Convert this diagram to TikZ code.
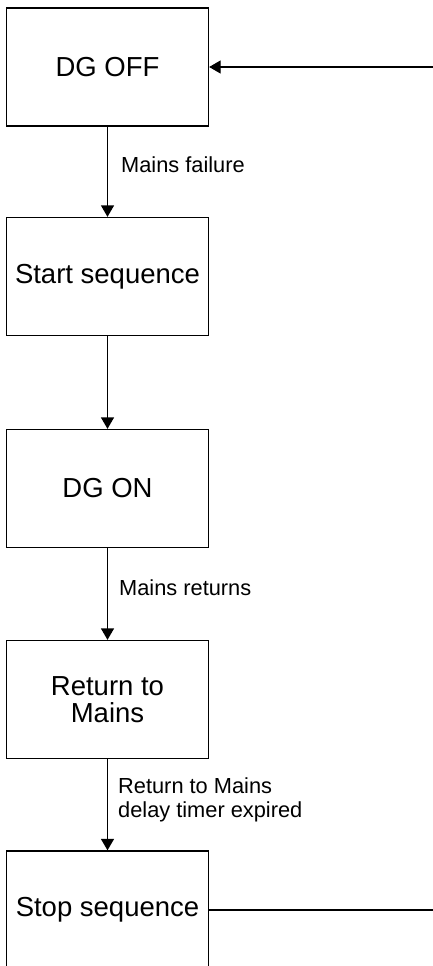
\documentclass[tikz,border=0pt]{standalone}
\usepackage{fontspec}
\setmainfont{Liberation Sans}
\usetikzlibrary{arrows.meta}
\begin{document}
\begin{tikzpicture}[x=1pt,y=-1pt,
  statebox/.style={draw,line width=1.3pt,minimum width=202pt,minimum height=118pt,align=center,inner sep=0pt,font=\fontsize{27.5}{27}\selectfont},
  lbl/.style={anchor=west,align=left,inner sep=0pt,font=\fontsize{21.8}{24}\selectfont},
  conn/.style={line width=1.3pt,-{Triangle[width=13pt,length=11.5pt]}}]
\clip (0,0) rectangle (433,966);
\useasboundingbox (0,0) rectangle (433,966);
\node[statebox] (off) at (107.5,67) {DG OFF};
\node[statebox] (start) at (107.5,276.5) {Start sequence};
\node[statebox] (on) at (107.5,488.5) {DG ON};
\node[statebox] (ret) at (107.5,699.5) {Return to\\Mains};
\node[statebox] (stop) at (107.5,910) {Stop sequence};
\coordinate (inR) at (433,67);
\coordinate (outR) at (433,910);
\draw[conn] (off) -- (start);
\draw[conn] (start) -- (on);
\draw[conn] (on) -- (ret);
\draw[conn] (ret) -- (stop);
\draw[conn] (inR) -- (off.east);
\draw[line width=1.3pt] (stop.east) -- (outR);
\node[lbl] (l1) at (121,165) {Mains failure};
\node[lbl] (l2) at (119,588) {Mains returns};
\node[lbl] (l3) at (118,800) {Return to Mains\\delay timer expired};
\end{tikzpicture}
\end{document}
